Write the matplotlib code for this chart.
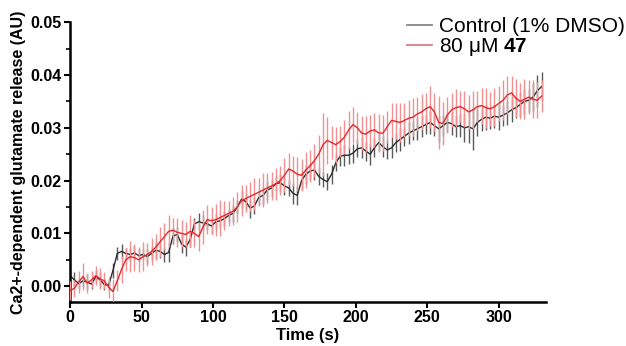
import numpy as np
import matplotlib
matplotlib.use("Agg")
import matplotlib.pyplot as plt

plt.rcParams["font.family"] = ["Liberation Sans", "DejaVu Sans"]
plt.rcParams["mathtext.fontset"] = "custom"
plt.rcParams["mathtext.rm"] = "Liberation Sans"
plt.rcParams["mathtext.bf"] = "Liberation Sans:bold"

# sampling times (s)
TIME = list(range(0, 331, 3))

CONTROL = [
    0.0020, 0.0012, 0.0005, 0.0010, 0.0008, 0.0004, 0.0018, 0.0012, 0.0003, 0.0002,
    0.0030, 0.0062, 0.0066, 0.0062, 0.0060, 0.0063, 0.0058, 0.0060, 0.0056, 0.0062,
    0.0068, 0.0066, 0.0060, 0.0064, 0.0095, 0.0098, 0.0080, 0.0074, 0.0088, 0.0118,
    0.0122, 0.0120, 0.0118, 0.0114, 0.0122, 0.0124, 0.0128, 0.0134, 0.0138, 0.0150,
    0.0165, 0.0160, 0.0148, 0.0152, 0.0168, 0.0172, 0.0182, 0.0186, 0.0194, 0.0196,
    0.0190, 0.0186, 0.0176, 0.0172, 0.0200, 0.0212, 0.0218, 0.0220, 0.0208, 0.0202,
    0.0198, 0.0212, 0.0234, 0.0246, 0.0248, 0.0248, 0.0252, 0.0260, 0.0262, 0.0256,
    0.0250, 0.0262, 0.0272, 0.0264, 0.0258, 0.0262, 0.0272, 0.0278, 0.0284, 0.0290,
    0.0294, 0.0298, 0.0302, 0.0306, 0.0310, 0.0304, 0.0298, 0.0304, 0.0310, 0.0308,
    0.0302, 0.0304, 0.0300, 0.0302, 0.0298, 0.0310, 0.0316, 0.0320, 0.0318, 0.0322,
    0.0320, 0.0324, 0.0328, 0.0334, 0.0338, 0.0344, 0.0350, 0.0352, 0.0358, 0.0370,
    0.0378,
]
CONTROL_ERR = [
    0.0012, 0.0014, 0.0010, 0.0012, 0.0015, 0.0010, 0.0012, 0.0014, 0.0010, 0.0012,
    0.0014, 0.0012, 0.0014, 0.0010, 0.0012, 0.0014, 0.0012, 0.0010, 0.0014, 0.0012,
    0.0016, 0.0012, 0.0014, 0.0018, 0.0016, 0.0014, 0.0018, 0.0016, 0.0014, 0.0012,
    0.0016, 0.0014, 0.0012, 0.0016, 0.0014, 0.0012, 0.0014, 0.0012, 0.0016, 0.0014,
    0.0016, 0.0014, 0.0018, 0.0016, 0.0014, 0.0016, 0.0018, 0.0016, 0.0014, 0.0016,
    0.0018, 0.0016, 0.0020, 0.0018, 0.0016, 0.0018, 0.0016, 0.0018, 0.0016, 0.0014,
    0.0016, 0.0018, 0.0016, 0.0018, 0.0020, 0.0016, 0.0018, 0.0016, 0.0020, 0.0018,
    0.0020, 0.0018, 0.0016, 0.0020, 0.0018, 0.0020, 0.0018, 0.0022, 0.0018, 0.0020,
    0.0018, 0.0022, 0.0020, 0.0018, 0.0022, 0.0020, 0.0024, 0.0020, 0.0018, 0.0022,
    0.0020, 0.0022, 0.0026, 0.0030, 0.0040, 0.0026, 0.0022, 0.0024, 0.0020, 0.0022,
    0.0024, 0.0020, 0.0022, 0.0024, 0.0020, 0.0022, 0.0024, 0.0022, 0.0026, 0.0030,
    0.0028,
]

TREATED = [
    -0.0008, -0.0004, 0.0008, 0.0018, 0.0006, 0.0012, 0.0020, 0.0014, 0.0010, -0.0002,
    -0.0010, 0.0010, 0.0032, 0.0050, 0.0056, 0.0054, 0.0050, 0.0056, 0.0060, 0.0066,
    0.0074, 0.0084, 0.0094, 0.0104, 0.0106, 0.0102, 0.0100, 0.0098, 0.0104, 0.0100,
    0.0094, 0.0112, 0.0126, 0.0124, 0.0126, 0.0130, 0.0134, 0.0138, 0.0142, 0.0150,
    0.0162, 0.0166, 0.0170, 0.0174, 0.0178, 0.0182, 0.0186, 0.0190, 0.0194, 0.0200,
    0.0210, 0.0222, 0.0218, 0.0212, 0.0210, 0.0220, 0.0228, 0.0238, 0.0250, 0.0268,
    0.0276, 0.0272, 0.0268, 0.0274, 0.0282, 0.0296, 0.0306, 0.0300, 0.0290, 0.0288,
    0.0294, 0.0296, 0.0290, 0.0290, 0.0302, 0.0314, 0.0312, 0.0310, 0.0314, 0.0318,
    0.0320, 0.0326, 0.0330, 0.0336, 0.0340, 0.0330, 0.0310, 0.0308, 0.0324, 0.0334,
    0.0338, 0.0340, 0.0336, 0.0330, 0.0334, 0.0340, 0.0342, 0.0338, 0.0336, 0.0340,
    0.0346, 0.0352, 0.0362, 0.0366, 0.0356, 0.0350, 0.0354, 0.0358, 0.0354, 0.0352,
    0.0360,
]
TREATED_ERR = [
    0.0018, 0.0016, 0.0020, 0.0026, 0.0018, 0.0016, 0.0018, 0.0020, 0.0016, 0.0020,
    0.0024, 0.0020, 0.0026, 0.0022, 0.0030, 0.0026, 0.0024, 0.0028, 0.0022, 0.0026,
    0.0024, 0.0028, 0.0026, 0.0030, 0.0024, 0.0028, 0.0026, 0.0024, 0.0030, 0.0026,
    0.0028, 0.0032, 0.0028, 0.0026, 0.0030, 0.0034, 0.0028, 0.0024, 0.0026, 0.0028,
    0.0030, 0.0026, 0.0028, 0.0030, 0.0026, 0.0032, 0.0028, 0.0026, 0.0030, 0.0028,
    0.0032, 0.0030, 0.0028, 0.0032, 0.0030, 0.0034, 0.0030, 0.0032, 0.0036, 0.0060,
    0.0045, 0.0032, 0.0034, 0.0030, 0.0032, 0.0036, 0.0034, 0.0030, 0.0032, 0.0034,
    0.0030, 0.0032, 0.0036, 0.0034, 0.0030, 0.0032, 0.0034, 0.0036, 0.0032, 0.0034,
    0.0036, 0.0032, 0.0034, 0.0030, 0.0040, 0.0036, 0.0050, 0.0040, 0.0034, 0.0032,
    0.0036, 0.0030, 0.0034, 0.0032, 0.0036, 0.0030, 0.0034, 0.0038, 0.0032, 0.0036,
    0.0034, 0.0038, 0.0036, 0.0032, 0.0036, 0.0034, 0.0038, 0.0032, 0.0036, 0.0034,
    0.0030,
]

YTICKS = [0.00, 0.01, 0.02, 0.03, 0.04, 0.05]
XTICKS = [0, 50, 100, 150, 200, 250, 300]

fig = plt.figure(figsize=(6.26, 3.46), dpi=100)
ax = fig.add_axes([0.112, 0.127, 0.76, 0.809])

ax.errorbar(TIME, CONTROL, yerr=CONTROL_ERR, color="#2b2b2b", lw=1.0,
            ecolor="#5a5a5a", elinewidth=1.0, capsize=0, zorder=2)
ax.errorbar(TIME, TREATED, yerr=TREATED_ERR, color="#e8262a", lw=1.0,
            ecolor="#f09090", elinewidth=1.0, capsize=0, zorder=3)

ax.set_xlim(0, 333)
ax.set_ylim(-0.003, 0.05)
ax.set_xticks(XTICKS)
ax.set_yticks(YTICKS)
ax.set_yticklabels([f"{v:.2f}" for v in YTICKS])
ax.set_yticks(np.arange(0.005, 0.05, 0.01), minor=True)
for s in ("top", "right"):
    ax.spines[s].set_visible(False)
for s in ("left", "bottom"):
    ax.spines[s].set_linewidth(1.8)
ax.tick_params(which="major", length=4, width=1.5, labelsize=11.5, pad=2)
ax.tick_params(which="minor", length=3, width=1.2)
for lab in ax.get_xticklabels() + ax.get_yticklabels():
    lab.set_fontweight("bold")
ax.set_xlabel("Time (s)", fontsize=12, fontweight="bold", labelpad=2)
ax.set_ylabel("Ca2+-dependent glutamate release (AU)", fontsize=11.5,
              fontweight="bold", labelpad=3)

h1, = ax.plot([], [], color="#888888", lw=1.3)
h2, = ax.plot([], [], color="#d98080", lw=1.3)
fig.legend([h1, h2], ["Control (1% DMSO)", "80 \u03bcM $\\mathbf{47}$"],
           loc="upper left", bbox_to_anchor=(0.644, 0.962), frameon=False,
           fontsize=15, handlelength=1.2, handletextpad=0.3, labelspacing=0.0,
           borderaxespad=0.0, borderpad=0.2)

fig.savefig("out.png", dpi=100)
